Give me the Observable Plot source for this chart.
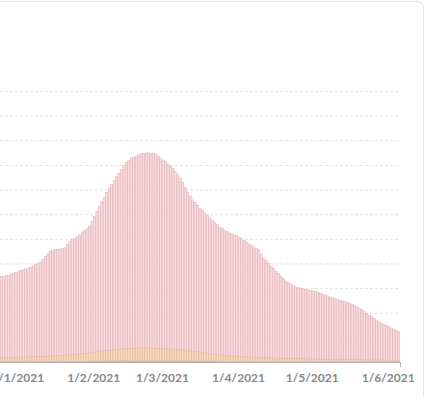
<!DOCTYPE html>
<html><head><meta charset="utf-8">
<script src="https://cdn.jsdelivr.net/npm/d3@7"></script>
<script src="https://cdn.jsdelivr.net/npm/@observablehq/plot@0.6"></script>
<style>
html,body{margin:0;padding:0;background:#fff;}
#wrap{position:relative;width:427px;height:397px;overflow:hidden;}
#card{position:absolute;left:-30px;top:1px;width:452px;height:460px;border:1px solid #e6e6e6;border-radius:7px;box-shadow:0 0 2px rgba(0,0,0,0.05);background:#fff;}
#chart{position:absolute;left:0;top:0;}
</style></head><body>
<div id="wrap"><div id="card"></div><div id="chart"></div></div>
<script>
// Daily values starting 25/12/2020 (top of the pink bars = total)
const firstDay = "2020-12-25";
const lastDayEnd = "2021-06-06";
const totalSeries = [
3490,3480,3500,3510,3560,3610,3640,3660,3720,3740,
3780,3810,3850,3900,3960,4010,4060,4170,4280,4390,
4500,4540,4560,4580,4590,4600,4630,4760,4910,4970,
5030,5090,5160,5250,5340,5430,5520,5700,5900,6110,
6330,6510,6690,6880,7060,7210,7370,7520,7670,7820,
7970,8120,8190,8260,8320,8360,8410,8450,8470,8490,
8490,8480,8460,8420,8360,8280,8200,8140,8040,7950,
7870,7740,7600,7470,7280,7090,6900,6740,6580,6470,
6360,6250,6150,6050,5950,5850,5760,5670,5570,5480,
5420,5360,5300,5240,5200,5160,5120,5080,5010,4940,
4860,4790,4730,4670,4610,4550,4390,4220,4110,4000,
3890,3790,3690,3590,3490,3390,3290,3230,3170,3110,
3050,3030,3000,2980,2950,2930,2900,2880,2860,2840,
2800,2760,2720,2680,2640,2600,2570,2540,2510,2480,
2450,2420,2390,2340,2290,2240,2190,2120,2050,1980,
1910,1840,1770,1700,1630,1580,1530,1480,1430,1380,
1320,1270,1220];
const orangeSeries = [
180,185,190,185,190,195,200,195,200,205,
205,210,210,215,220,220,225,230,230,235,
240,245,250,255,260,265,270,275,285,295,
305,315,325,335,345,355,370,385,400,415,
430,445,460,470,480,490,500,510,520,530,
540,545,550,555,560,565,565,570,570,570,
570,565,565,560,555,550,545,540,535,530,
520,510,500,490,480,470,460,450,440,430,
415,400,385,370,355,340,325,310,300,290,
280,270,260,250,245,240,235,230,225,220,
215,210,205,200,195,190,185,180,175,170,
165,160,158,155,152,150,148,145,142,140,
138,135,132,130,128,126,124,122,120,118,
116,114,112,110,108,106,104,102,100,98,
96,95,94,93,92,91,90,89,88,87,
86,85,84,83,82,81,80,79,78,77,
76,75,74];
const graySeries = [
20,20,21,20,20,22,21,20,20,21,
22,21,20,20,21,22,21,20,21,22,
22,21,22,23,22,22,23,22,24,25,
25,26,27,28,28,30,31,32,34,36,
45,47,48,50,51,52,52,53,54,54,
55,55,54,55,55,56,55,55,54,55,
54,54,53,53,52,52,51,51,50,50,
49,49,48,48,47,47,46,46,45,45,
44,44,43,43,42,42,41,41,40,18,
17,17,17,16,16,16,16,16,16,15,
15,15,15,15,15,15,15,15,15,15,
15,15,15,15,15,15,15,15,15,15,
15,15,15,15,15,15,15,15,15,15,
15,15,15,15,15,15,15,15,15,15,
15,15,15,15,15,15,15,15,15,15,
15,15,15,15,15,15,15,15,15,15,
15,15,15];
const tickDates = ["2021-01-01","2021-02-01","2021-03-01","2021-04-01","2021-05-01","2021-06-01"];
const gridValues = [1000,2000,3000,4000,5000,6000,7000,8000,9000,10000,11000];

const t0 = new Date(firstDay);
const rows = totalSeries.map((v, i) => ({
  date: d3.utcDay.offset(t0, i),
  total: v,
  orange: orangeSeries[i],
  gray: graySeries[i]
}));
const xEnd = new Date(lastDayEnd);

const plot = Plot.plot({
  width: 427,
  height: 397,
  marginTop: 91,
  marginBottom: 35,
  marginLeft: 0,
  marginRight: 27,
  style: {background: "transparent", fontFamily: "Lato, 'Open Sans', sans-serif", fontSize: "12px", fontWeight: "bold", overflow: "visible"},
  x: {type: "utc", domain: [t0, xEnd]},
  y: {domain: [0, 11000], axis: null},
  marks: [
    Plot.gridY(gridValues, {stroke: "#e3e3e3", strokeOpacity: 1, strokeDasharray: "3,2"}),
    Plot.rectY(rows, {x: "date", interval: "day", y: "total", fill: "#fbdadd", stroke: "#d6a4ab", strokeWidth: 0.4, insetLeft: 0.2, insetRight: 0.2}),
    Plot.rectY(rows, {x: "date", interval: "day", y: "orange", fill: "#fadbb6", stroke: "#e2b3a2", strokeWidth: 0.4, insetLeft: 0.2, insetRight: 0.2}),
    Plot.rectY(rows, {x: "date", interval: "day", y: "gray", fill: "#b9afbf", insetLeft: 0.3, insetRight: 0.3}),
    Plot.ruleY([0], {stroke: "#b3b3b3", strokeWidth: 1}),
    Plot.ruleX([xEnd], {stroke: "#b3b3b3", insetTop: 271, insetBottom: -5}),
    Plot.axisX(tickDates.map(d => new Date(d)), {
      tickFormat: d3.utcFormat("%-d/%-m/%Y"),
      tickSize: 0,
      tickPadding: 11,
      fill: "#858990",
      label: null
    })
  ]
});
document.getElementById("chart").appendChild(plot);
</script>
</body></html>
